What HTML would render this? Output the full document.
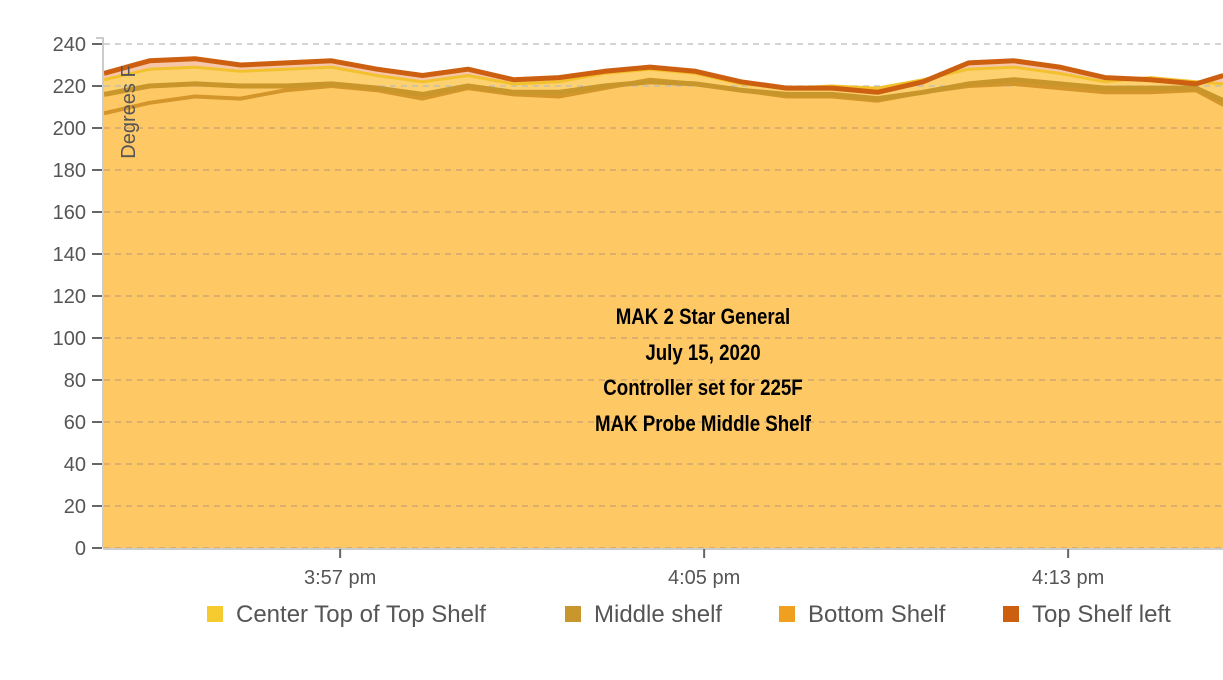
<!DOCTYPE html>
<html><head><meta charset="utf-8"><style>
body{margin:0;background:#fff;}
svg text{font-family:"Liberation Sans",sans-serif;}
</style></head><body>
<svg id="chart" width="1223" height="675" xmlns="http://www.w3.org/2000/svg">
<g id="fills"></g>
<g id="grid"></g>
<g id="lines"></g>
<g id="axes"></g>
<text transform="translate(135,112) rotate(-90)" text-anchor="middle" font-size="20" fill="#555">Degrees F</text>
<g font-weight="bold" font-size="22" fill="#000" text-anchor="middle">
<text x="703" y="324" transform="translate(703,0) scale(0.85,1) translate(-703,0)">MAK 2 Star General</text>
<text x="703" y="360" transform="translate(703,0) scale(0.85,1) translate(-703,0)">July 15, 2020</text>
<text x="703" y="395" transform="translate(703,0) scale(0.85,1) translate(-703,0)">Controller set for 225F</text>
<text x="703" y="431" transform="translate(703,0) scale(0.85,1) translate(-703,0)">MAK Probe Middle Shelf</text>
</g>
<g id="legend"></g>
</svg>
<script>
const times=[0,1,2,3,4,5,6,7,8,9,10,11,12,13,14,15,16,17,18,19,20,21,22,23,24,24.6];
const seriesNames=["Top Shelf left","Center Top of Top Shelf","Middle shelf","Bottom Shelf"];
const topLeft=[226,232,233,230,231,232,228,225,228,223,224,227,229,227,222,219,219,217,222,231,232,229,224,223,221,225];
const centerTop=[223,228,229,227,228,229,225,222,225,221,222,226,228,226,221,219,220,219,223,228,229,226,222,224,222,221];
const middleShelf=[216,220,221,220,220,221,219,216,220,217,217,220,222,221,218,216,216,214,217,221,223,221,219,219,219,213];
const bottomShelf=[207,212,215,214,218,220,218,214,219,216,215,219,223,221,218,215,215,213,217,220,221,219,217,217,218,211];
const yTicks=[0,20,40,60,80,100,120,140,160,180,200,220,240];
const xTickTimes=[5.19,13.19,21.19];
const xTickLabels=["3:57 pm","4:05 pm","4:13 pm"];
const legendNames=["Center Top of Top Shelf","Middle shelf","Bottom Shelf","Top Shelf left"];

const NS="http://www.w3.org/2000/svg";
const X=t=>104+45.5*t;
const Y=v=>548-v*2.1;
function mk(tag,attrs,parent){const e=document.createElementNS(NS,tag);for(const k in attrs)e.setAttribute(k,attrs[k]);parent.appendChild(e);return e;}
const fills=document.getElementById('fills'),lines=document.getElementById('lines'),grid=document.getElementById('grid'),axes=document.getElementById('axes'),legend=document.getElementById('legend');
const specs=[[topLeft,"#f7c6a8","#cc6010",5,"area-top-shelf-left"],[centerTop,"#fdd070","#f2c12e",3,"area-center-top"],[middleShelf,"#fec865","#c8962a",5,"area-middle-shelf"],[bottomShelf,"#fec865","#d4962a",4,"area-bottom-shelf"]];
specs.forEach(s=>{
  const pts=times.map((t,i)=>X(t)+","+Y(s[0][i])).join(" ");
  const a=mk('polygon',{points:X(times[0])+","+Y(0)+" "+pts+" "+X(times[times.length-1])+","+Y(0),fill:s[1]},fills);
  
  
});
specs.slice().reverse().forEach(s=>{
  const pts=times.map((t,i)=>X(t)+","+Y(s[0][i])).join(" ");
  const l=mk('polyline',{points:pts,fill:"none",stroke:s[2],"stroke-width":s[3],"stroke-linejoin":"round"},lines);
  
  
});
yTicks.forEach(v=>{
  const g=mk('line',{x1:104,x2:1223,y1:Y(v),y2:Y(v),stroke:v>=220?"#bbb":"#c9a070","stroke-dasharray":"6,5","stroke-width":1.2},grid);
  
  
  const tk=mk('line',{x1:92,x2:102,y1:Y(v),y2:Y(v),stroke:"#666","stroke-width":2},axes);
  
  
  const tx=mk('text',{x:86,y:Y(v)+7,"text-anchor":"end","font-size":20,fill:"#555"},axes);
  tx.textContent=v;
  
  
});
const ya=mk('line',{x1:103,x2:103,y1:38,y2:548,stroke:"#ccc","stroke-width":2},axes);


const yt=mk('line',{x1:96,x2:104,y1:38,y2:38,stroke:"#ccc","stroke-width":2},axes);


const xa=mk('line',{x1:103,x2:1223,y1:549,y2:549,stroke:"#ccc","stroke-width":2},axes);


xTickTimes.forEach((t,i)=>{
  const tk=mk('line',{x1:X(t),x2:X(t),y1:549,y2:558,stroke:"#666","stroke-width":2},axes);
  
  
  const tx=mk('text',{x:X(t),y:584,"text-anchor":"middle","font-size":20,fill:"#555"},axes);
  tx.textContent=xTickLabels[i];
  
  
});
const legX=[207,565,779,1003],legC=["#f5cb30","#c8962a","#f0a020","#cc6010"];
legendNames.forEach((n,i)=>{
  const g=mk('g',{},legend);
  
  
  mk('rect',{x:legX[i],y:606,width:16,height:16,fill:legC[i]},g);
  const tx=mk('text',{x:legX[i]+29,y:622,"font-size":24,fill:"#555"},g);
  tx.textContent=n;
});
</script>
</body></html>
